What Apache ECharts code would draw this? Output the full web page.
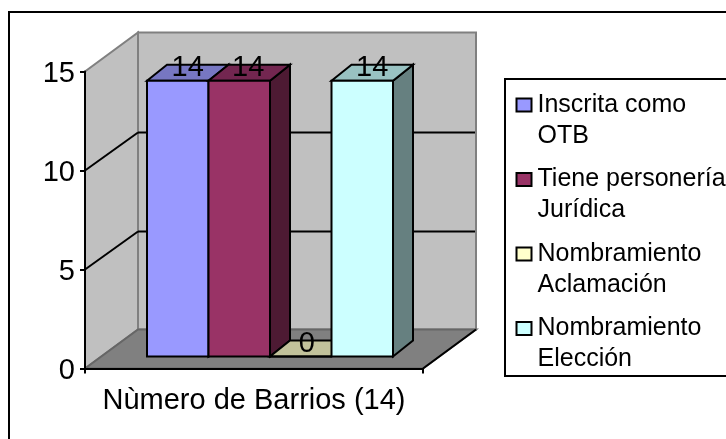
<!DOCTYPE html>
<html><head><meta charset="utf-8">
<style>html,body{margin:0;padding:0;background:#fff}#c{width:726px;height:439px}</style>
<script src="https://cdn.jsdelivr.net/npm/echarts@6/dist/echarts.min.js"></script>
</head><body><div id="c"></div>
<script>
const categories = ['Nùmero de Barrios (14)'];
const seriesNames = ['Inscrita como OTB','Tiene personería Jurídica','Nombramiento Aclamación','Nombramiento Elección'];
const legendLines = {
  'Inscrita como OTB':'Inscrita como\nOTB',
  'Tiene personería Jurídica':'Tiene personería\nJurídica',
  'Nombramiento Aclamación':'Nombramiento\nAclamación',
  'Nombramiento Elección':'Nombramiento\nElección'
};
const inscrita = [14];
const personeria = [14];
const aclamacion = [0];
const eleccion = [14];
const frontColors = ['#9999FF','#993366','#FFFFCC','#CCFFFF'];
const topColors = ['#7777C2','#732650','#C2C29B','#99C2C2'];
const sideColors = ['#4D4D80','#4D1A33','#80806A','#668080'];
const yTicks = [0,5,10,15];

const FONT = '"Liberation Sans", Arial, sans-serif';
const DEPTH = [53, -39];       // wall depth
const BAR_DEPTH = [20, -16];   // bar depth
const BAR_FRONT = -12;         // bars sit forward of the axis floor edge
const BAR_SCALE = 0.995;       // bars stand slightly behind the axis plane
const BAR_W = 61.5;
const BAR_START = 62;          // px from the axis start to the first bar
const LABEL_DX = [10, 9, 6, 10];

function poly(points, fill, stroke, w){
  return {type:'polygon', shape:{points}, style:{fill, stroke:stroke||'#000', lineWidth:w==null?2:w}};
}
function line(a,b,stroke,w){
  return {type:'line', shape:{x1:a[0],y1:a[1],x2:b[0],y2:b[1]}, style:{stroke, lineWidth:w}};
}
function wallsItem(params, api){
  const cs = params.coordSys;
  const x0 = cs.x, x1 = cs.x + cs.width;
  const yB = api.coord([0, 0])[1], yT = api.coord([0, 15])[1];
  const d = DEPTH, kids = [];
  kids.push(poly([[x0,yB],[x0+d[0],yB+d[1]],[x0+d[0],yT+d[1]],[x0,yT]],'#C0C0C0','#808080',2));
  kids.push(poly([[x0+d[0],yB+d[1]],[x1+d[0],yB+d[1]],[x1+d[0],yT+d[1]],[x0+d[0],yT+d[1]]],'#C0C0C0','#808080',2));
  kids.push(poly([[x0,yB],[x1,yB],[x1+d[0],yB+d[1]],[x0+d[0],yB+d[1]]],'#808080','#666666',2));
  kids.push(line([x1,yB],[x1+d[0],yB+d[1]],'#000',2));
  yTicks.slice(1,-1).forEach(v=>{
    const y = api.coord([0,v])[1];
    kids.push(line([x0,y],[x0+d[0],y+d[1]+1],'#000',2));
    kids.push(line([x0+d[0],y+d[1]+1],[x1+d[0]-1,y+d[1]+1],'#000',2));
  });
  return {type:'group', children:kids};
}
function barItem(idx){
  return function(params, api){
    const cs = params.coordSys;
    const v = api.value(1);
    const xL = cs.x + BAR_START + idx*BAR_W, xR = xL + BAR_W;
    const y0 = api.coord([0,0])[1];
    const yB = y0 + BAR_FRONT;
    const yT = yB + (api.coord([0,v])[1] - y0) * BAR_SCALE;
    const dx = BAR_DEPTH[0], dy = BAR_DEPTH[1];
    const kids = [];
    kids.push(poly([[xR,yB],[xR+dx,yB+dy],[xR+dx,yT+dy],[xR,yT]],sideColors[idx]));
    kids.push(poly([[xL,yT],[xL+dx,yT+dy],[xR+dx,yT+dy],[xR,yT]],topColors[idx]));
    kids.push(poly([[xL,yB],[xR,yB],[xR,yT],[xL,yT]],frontColors[idx]));
    kids.push({type:'text', z2:10, style:{text:String(v), x:(xL+xR)/2+LABEL_DX[idx], y:yT-13, fill:'#000',
      font:'29px '+FONT, align:'center', verticalAlign:'middle'}});
    return {type:'group', children:kids};
  };
}
const barData = [inscrita, personeria, aclamacion, eleccion];
const chart = echarts.init(document.getElementById('c'), null, {renderer:'canvas'});
chart.setOption({
  animation:false,
  backgroundColor:'#fff',
  graphic:[
    {type:'rect', z:-1, shape:{x:9,y:12,width:730,height:500}, style:{fill:'#fff',stroke:'#000',lineWidth:2}},
    {type:'rect', z:-1, shape:{x:505,y:79,width:230,height:297}, style:{fill:'#fff',stroke:'#000',lineWidth:2}}
  ],
  grid:{left:85, top:71.5, width:338, height:297, containLabel:false},
  xAxis:{type:'category', data:categories, z:5,
    axisLine:{lineStyle:{color:'#000',width:2}},
    axisTick:{show:true,length:5,lineStyle:{color:'#000',width:2}},
    axisLabel:{color:'#000',fontFamily:FONT,fontSize:29,margin:18},
    splitLine:{show:false}},
  yAxis:{type:'value', min:0, max:15, interval:5, z:5,
    axisLine:{show:true,lineStyle:{color:'#000',width:2}},
    axisTick:{show:true,length:5,lineStyle:{color:'#000',width:2}},
    axisLabel:{color:'#000',fontFamily:FONT,margin:10,formatter:'{a|{value}}',
      rich:{a:{color:'#000',fontFamily:FONT,fontSize:29,padding:[5,0,0,0]}}},
    splitLine:{show:false}},
  legend:{
    left:515.5, top:58.5, orient:'vertical', padding:0, selectedMode:false,
    itemWidth:15, itemHeight:13, itemGap:-18.5,
    icon:'rect',
    itemStyle:{borderColor:'#000',borderWidth:2},
    textStyle:{color:'#000',fontFamily:FONT,fontSize:25,lineHeight:31,padding:[0,0,0,1]},
    formatter:n=>'\n'+legendLines[n],
    data:seriesNames
  },
  series:[
    {type:'custom', name:'walls', z:1, silent:true, clip:false, renderItem:wallsItem,
      encode:{x:0,y:1}, data:[[0,0]]},
    ...seriesNames.map((n,i)=>({
      type:'custom', name:n, z:2, clip:false, renderItem:barItem(i),
      itemStyle:{color:frontColors[i]}, encode:{x:0,y:1},
      data:[[0,barData[i][0]]]
    }))
  ]
});
</script></body></html>
